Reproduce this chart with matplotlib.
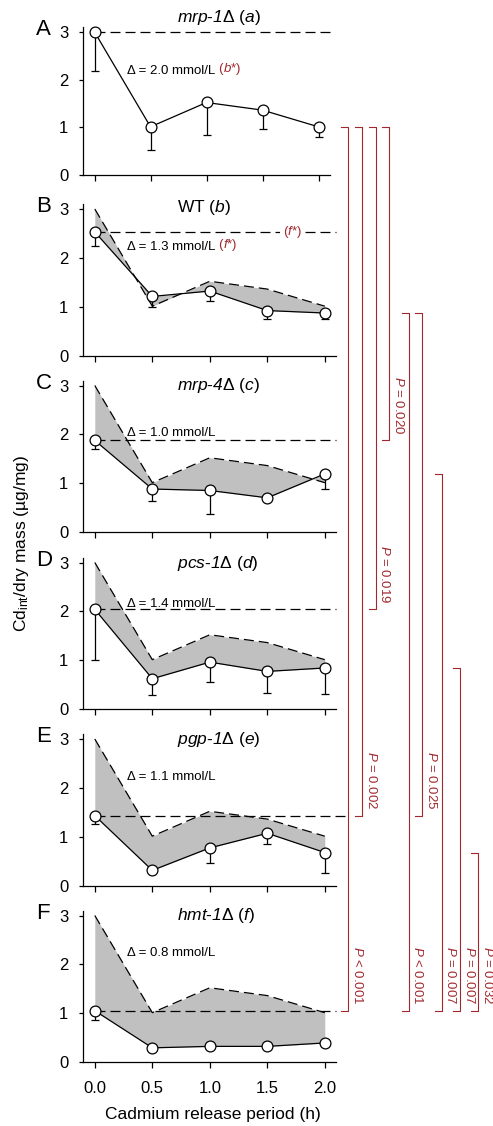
import matplotlib
matplotlib.use('Agg')
import matplotlib.pyplot as plt
import matplotlib.transforms as mtransforms
from matplotlib.lines import Line2D

plt.rcParams['font.family'] = ['Liberation Sans', 'DejaVu Sans']
plt.rcParams['mathtext.fontset'] = 'custom'
plt.rcParams['mathtext.rm'] = 'Liberation Sans'
plt.rcParams['mathtext.it'] = 'Liberation Sans:italic'
plt.rcParams['mathtext.sf'] = 'Liberation Sans:italic'
plt.rcParams['mathtext.bf'] = 'Liberation Sans:bold'

# ---------------- data ----------------
time_h = [0.0, 0.5, 1.0, 1.5, 2.0]
x_tick_labels = ['0.0', '0.5', '1.0', '1.5', '2.0']
y_ticks = [0, 1, 2, 3]

panel_letters = ['A', 'B', 'C', 'D', 'E', 'F']
strain_names = ['mrp-1', 'WT', 'mrp-4', 'pcs-1', 'pgp-1', 'hmt-1']
strain_codes = ['a', 'b', 'c', 'd', 'e', 'f']

mrp1_mean = [3.00, 1.01, 1.52, 1.36, 1.01]
mrp1_err = [0.81, 0.49, 0.69, 0.40, 0.22]
wt_mean = [2.53, 1.21, 1.32, 0.92, 0.87]
wt_err = [0.28, 0.22, 0.21, 0.18, 0.13]
mrp4_mean = [1.875, 0.88, 0.85, 0.70, 1.19]
mrp4_err = [0.175, 0.24, 0.48, 0.0, 0.30]
pcs1_mean = [2.04, 0.62, 0.96, 0.77, 0.84]
pcs1_err = [1.03, 0.34, 0.40, 0.44, 0.53]
pgp1_mean = [1.43, 0.31, 0.77, 1.07, 0.675]
pgp1_err = [0.18, 0.0, 0.30, 0.22, 0.425]
hmt1_mean = [1.05, 0.29, 0.32, 0.32, 0.39]
hmt1_err = [0.20, 0.0, 0.0, 0.0, 0.0]

means = [mrp1_mean, wt_mean, mrp4_mean, pcs1_mean, pgp1_mean, hmt1_mean]
errs = [mrp1_err, wt_err, mrp4_err, pcs1_err, pgp1_err, hmt1_err]

delta_values = ['2.0', '1.3', '1.0', '1.4', '1.1', '0.8']
delta_marks = ['b*', 'f*', '', '', '', '']

# significance brackets: (source panel, target panel, p-text)
bracket_src = [0, 0, 0, 0, 1, 1, 2, 3, 4]
bracket_dst = [5, 4, 3, 2, 5, 4, 5, 5, 5]
bracket_p = ['< 0.001', '= 0.002', '= 0.019', '= 0.020', '< 0.001',
             '= 0.025', '= 0.007', '= 0.007', '= 0.032']

# ---------------- layout ----------------
W, H = 493, 1126
fig = plt.figure(figsize=(W / 100, H / 100), dpi=100)
RED = '#A0282D'
GREY = '#C0C0C0'

ax_left_px = [83.3] * 6
ax_width_px = [246.4, 253, 253, 253, 253, 253]
ax_y0_px = [175, 355.5, 532, 709, 885.5, 1062]
ax_unit_px = [47.7, 48.83, 48.83, 48.83, 48.83, 48.83]
YTOP = 3.1
title_y = [3.3, 3.03, 3.0, 2.97, 3.0, 3.0]
delta_y = [2.18, 2.23, 2.02, 2.16, 2.23, 2.24]
hline_end = [2.1, 2.1, 2.1, 2.1, 2.2, 2.1]
bracket_x_px = [348.3, 362.3, 375.7, 389.3, 409, 422.3, 441.7, 460, 478.3]

pix = mtransforms.Affine2D().scale(1 / W, -1 / H).translate(0, 1) + fig.transFigure

axes = []
for i in range(6):
    rect = [ax_left_px[i] / W, 1 - ax_y0_px[i] / H,
            ax_width_px[i] / W, YTOP * ax_unit_px[i] / H]
    ax = fig.add_axes(rect)
    axes.append(ax)
    ax.set_xlim(-0.1, 2.1)
    ax.set_ylim(0, YTOP)
    for s in ['top', 'right']:
        ax.spines[s].set_visible(False)
    for s in ['left', 'bottom']:
        ax.spines[s].set_linewidth(0.9)
    ax.set_yticks(y_ticks)
    ax.set_yticklabels([str(t) for t in y_ticks])
    ax.set_xticks(time_h)
    if i == 5:
        ax.set_xticklabels(x_tick_labels)
    else:
        ax.set_xticklabels([])
    ax.tick_params(axis='y', direction='out', length=3.2, width=0.9, pad=7.5, labelsize=12)
    ax.tick_params(axis='x', direction='out', length=4.5, width=0.9, pad=9.5, labelsize=12)

    m = means[i]
    e = errs[i]
    if i > 0:
        ax.fill_between(time_h, m, mrp1_mean, interpolate=True, color=GREY,
                        linewidth=0, zorder=1)
        ax.plot(time_h, mrp1_mean, color='black', lw=0.9, dashes=(8, 4), zorder=2)
    ax.plot([0.0, hline_end[i]], [m[0], m[0]], color='black', lw=0.9,
            dashes=(8, 4), zorder=2, clip_on=False)
    ax.errorbar(time_h, m, yerr=[e, [0] * len(e)], fmt='none', ecolor='black',
                elinewidth=0.9, capsize=2.6, capthick=0.9, zorder=3, clip_on=False)
    ax.plot(time_h, m, color='black', lw=0.9, marker='o', markersize=7.8,
            markerfacecolor='white', markeredgecolor='black', markeredgewidth=0.9,
            zorder=4, clip_on=False)

    bt = mtransforms.blended_transform_factory(fig.transFigure, ax.transData)
    ax.text(36 / W, 3.05, panel_letters[i], transform=bt, fontsize=16,
            ha='left', va='center')
    if strain_names[i] == 'WT':
        title = 'WT ($\\mathsf{%s}$)' % strain_codes[i]
    else:
        nm, num = strain_names[i].split('-')
        title = '$\\mathsf{%s}$-$\\mathsf{%s}$\u0394 ($\\mathsf{%s}$)' % (nm, num, strain_codes[i])
    ax.text(177 / W, title_y[i], title, transform=bt, fontsize=12.5,
            ha='left', va='center')
    t = ax.text(127 / W, delta_y[i], '\u0394 = %s mmol/L' % delta_values[i],
                transform=bt, fontsize=9.5, ha='left', va='center')
    if delta_marks[i]:
        letter = delta_marks[i][0]
        ax.annotate(' ($\\mathsf{%s}$*)' % letter, xy=(1, 0), xycoords=t,
                    fontsize=9.5, color=RED, ha='left', va='bottom')

# "(f*)" label on WT baseline
axes[1].text(1.72, wt_mean[0], '($\\mathsf{f}$*)', fontsize=9.5, color=RED,
             ha='center', va='center', zorder=5,
             bbox=dict(facecolor='white', edgecolor='none', pad=2.5))

# axis labels
fig.text(213 / W, 1 - 1114 / H, 'Cadmium release period (h)', fontsize=12.5,
         ha='center', va='center')
fig.text(22 / W, 1 - 544 / H, 'Cd$_{\\mathrm{int}}$/dry mass (\u00b5g/mg)',
         fontsize=12.5, rotation=90, ha='center', va='center')

# significance brackets
def level_px(ax, v):
    return H - ax.transData.transform((0, v))[1]

for k in range(len(bracket_src)):
    s, d = bracket_src[k], bracket_dst[k]
    top = level_px(axes[s], means[s][-1])
    bot = level_px(axes[d], means[d][0])
    x = bracket_x_px[k]
    fig.add_artist(Line2D([x - 7, x, x, x - 7], [top, top, bot, bot],
                          transform=pix, color=RED, lw=0.8))
    fig.text(x + 2.5, bot - 6, '$P$ %s' % bracket_p[k], transform=pix,
             rotation=-90, ha='left', va='bottom', fontsize=9.5, color=RED)

fig.savefig('out.png', dpi=100)
